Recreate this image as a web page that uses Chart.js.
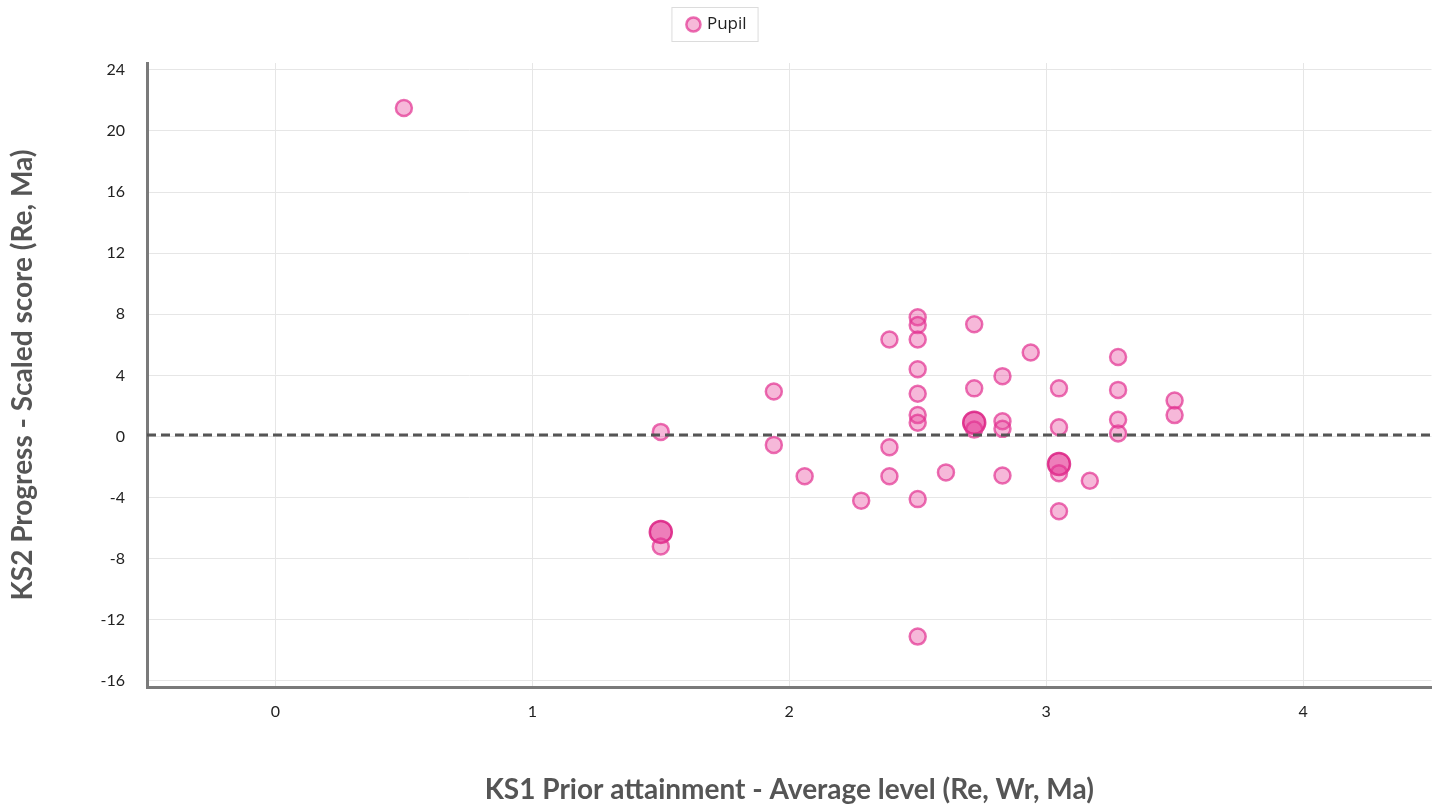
<!DOCTYPE html>
<html>
<head>
<meta charset="utf-8">
<script src="https://cdn.jsdelivr.net/npm/chart.js@4.4.0/dist/chart.umd.min.js"></script>
<style>
  html, body { margin: 0; padding: 0; background: #fff; }
  #wrap { width: 1445px; height: 809px; }
</style>
</head>
<body>
<div id="wrap"><canvas id="chart"></canvas></div>
<script>
// KS1 average level per pupil
const priorAttainment = [
    0.5, 1.5, 1.5, 1.5, 1.94, 1.94, 2.06, 2.28, 2.39, 2.39, 2.39,
    2.5, 2.5, 2.5, 2.5, 2.5, 2.5, 2.5, 2.5, 2.5, 2.61,
    2.72, 2.72, 2.72, 2.72, 2.83, 2.83, 2.83, 2.83, 2.94,
    3.05, 3.05, 3.05, 3.05, 3.05, 3.17, 3.28, 3.28, 3.28, 3.28, 3.5, 3.5
];
// KS2 progress scaled score per pupil
const progressScore = [
    21.5, 0.3, -6.25, -7.2, 2.95, -0.55, -2.6, -4.2, 6.35, -0.7, -2.6,
    7.8, 7.3, 6.35, 4.4, 2.8, 1.4, 0.9, -4.1, -13.1, -2.35,
    7.35, 3.15, 0.9, 0.45, 3.95, 1.0, 0.5, -2.55, 5.5,
    3.15, 0.6, -1.8, -2.4, -4.9, -2.9, 5.2, 3.05, 1.1, 0.2, 2.35, 1.4
];
// pupils sharing the same point
const pupilCount = [
    1, 1, 2, 1, 1, 1, 1, 1, 1, 1, 1,
    1, 1, 1, 1, 1, 1, 1, 1, 1, 1,
    1, 1, 2, 1, 1, 1, 1, 1, 1,
    1, 1, 2, 1, 1, 1, 1, 1, 1, 1, 1, 1
];
const xTickValues = [0, 1, 2, 3, 4];
const yTickValues = [-16, -12, -8, -4, 0, 4, 8, 12, 16, 20, 24];
const averageProgress = 0.1;

const points = priorAttainment.map((x, i) => ({ x: x, y: progressScore[i] }));

// dashed average line across the plot
const averageLinePlugin = {
    id: 'averageLine',
    afterDatasetsDraw(chart) {
        const { ctx, chartArea, scales } = chart;
        const y = scales.y.getPixelForValue(averageProgress);
        ctx.save();
        ctx.strokeStyle = '#555';
        ctx.lineWidth = 3;
        ctx.setLineDash([9, 5]);
        ctx.beginPath();
        ctx.moveTo(chartArea.left, y);
        ctx.lineTo(chartArea.right, y);
        ctx.stroke();
        ctx.restore();
    }
};

// thin border round the legend item, plus extra space below the legend
const legendBoxPlugin = {
    id: 'legendBox',
    beforeLayout(chart) {
        const lg = chart.legend;
        if (lg && !lg._extraSpace) {
            const fit = lg.fit;
            lg.fit = function () {
                fit.call(this);
                this.height += 20;
            };
            lg._extraSpace = true;
        }
    },
    afterDraw(chart) {
        const boxes = chart.legend && chart.legend.legendHitBoxes;
        if (!boxes || !boxes.length) return;
        const b = boxes[0];
        const ctx = chart.ctx;
        ctx.save();
        ctx.strokeStyle = '#dcdcdc';
        ctx.lineWidth = 1;
        ctx.strokeRect(b.left - 16.5, b.top - 8.5, b.width + 28, b.height + 17);
        ctx.restore();
    }
};

new Chart(document.getElementById('chart').getContext('2d'), {
    type: 'scatter',
    data: {
        datasets: [{
            label: 'Pupil',
            data: points,
            pointRadius: pupilCount.map(c => c > 1 ? 11 : 8),
            pointHoverRadius: pupilCount.map(c => c > 1 ? 11 : 8),
            borderWidth: 2.5,
            backgroundColor: pupilCount.map(c => c > 1 ? 'rgba(226, 40, 140, 0.6)' : 'rgba(232, 68, 154, 0.38)'),
            borderColor: pupilCount.map(c => c > 1 ? 'rgba(220, 30, 130, 0.85)' : 'rgba(226, 50, 145, 0.7)'),
        }]
    },
    options: {
        responsive: true,
        maintainAspectRatio: false,
        animation: false,
        layout: { padding: { left: 0, right: 10, top: 4, bottom: 0 } },
        plugins: {
            legend: {
                position: 'top',
                labels: {
                    usePointStyle: true,
                    boxWidth: 10,
                    boxHeight: 10,
                    padding: 12,
                    color: '#222',
                    font: { family: 'Open Sans', size: 17 }
                }
            },
            tooltip: { enabled: false }
        },
        scales: {
            x: {
                type: 'linear',
                min: -0.5,
                max: 4.5,
                afterBuildTicks: (scale) => { scale.ticks = xTickValues.map(v => ({ value: v })); },
                afterFit: (scale) => { scale.height = 122; },
                ticks: { padding: 15, color: '#222', font: { family: 'Lato', size: 16 } },
                grid: { color: '#e6e6e6', lineWidth: 1, drawTicks: false },
                border: { color: '#7a7a7a', width: 3 },
                title: {
                    display: true,
                    text: 'KS1 Prior attainment - Average level (Re, Wr, Ma)',
                    color: '#555',
                    font: { family: 'Lato', size: 28, weight: 'bold' },
                    padding: { top: 0, bottom: 2 }
                }
            },
            y: {
                type: 'linear',
                min: -16.4,
                max: 24.45,
                afterBuildTicks: (scale) => { scale.ticks = yTickValues.map(v => ({ value: v })); },
                afterFit: (scale) => { scale.width = 147; },
                ticks: { padding: 22, color: '#222', font: { family: 'Lato', size: 16 } },
                grid: { color: '#e6e6e6', lineWidth: 1, drawTicks: false },
                border: { color: '#7a7a7a', width: 3 },
                title: {
                    display: true,
                    text: 'KS2 Progress - Scaled score (Re, Ma)',
                    color: '#555',
                    font: { family: 'Lato', size: 28, weight: 'bold' },
                    padding: { top: 6, bottom: 0 }
                }
            }
        }
    },
    plugins: [averageLinePlugin, legendBoxPlugin]
});
</script>
</body>
</html>
